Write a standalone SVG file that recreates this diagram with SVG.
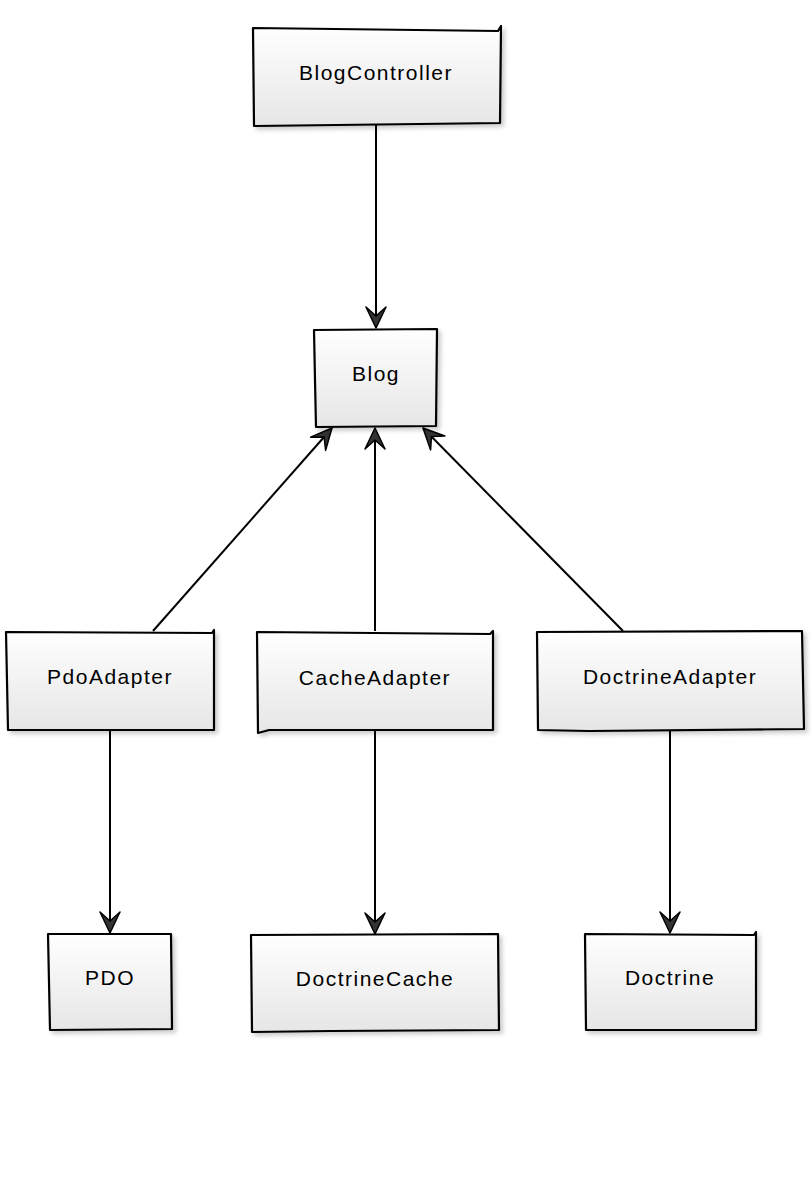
<svg xmlns="http://www.w3.org/2000/svg" width="812" height="1200" viewBox="0 0 812 1200">
<style>
.box{stroke:#000;stroke-width:2.2;fill:url(#g);filter:url(#sh);stroke-linejoin:round}
.lbl{font-family:"Liberation Sans",Arial,sans-serif;font-size:21px;letter-spacing:1.5px;fill:#000;text-anchor:middle;dominant-baseline:central}
.edge{stroke:#000;stroke-width:2;fill:none}
</style>
<defs>
<linearGradient id="g" x1="0" y1="0" x2="0" y2="1">
<stop offset="0" stop-color="#ffffff"/>
<stop offset="1" stop-color="#e6e6e6"/>
</linearGradient>
<filter id="sh" x="-10%" y="-10%" width="130%" height="130%">
<feDropShadow dx="3" dy="3" stdDeviation="2" flood-color="#000" flood-opacity="0.2"/>
</filter>
<marker id="arrb" viewBox="0 0 24 24" refX="22" refY="12" markerWidth="24" markerHeight="24" markerUnits="userSpaceOnUse" orient="auto">
<path d="M1,2 L22,12 L1,22 L10,12 Z" fill="#333" stroke="#000" stroke-width="1.5" stroke-linejoin="round"/>
</marker>
</defs>
<rect width="812" height="1200" fill="#fff"/>
<g id="edges">
<path class="edge" d="M376,125 L376,328" marker-end="url(#arrb)"/>
<path class="edge" d="M153,631 L332,428" marker-end="url(#arrb)"/>
<path class="edge" d="M375,631 L375,428" marker-end="url(#arrb)"/>
<path class="edge" d="M623,631 L423,428" marker-end="url(#arrb)"/>
<path class="edge" d="M110,730 L110,933" marker-end="url(#arrb)"/>
<path class="edge" d="M375,730 L375,934" marker-end="url(#arrb)"/>
<path class="edge" d="M670,730 L670,933" marker-end="url(#arrb)"/>
</g>
<g id="n-blogcontroller">
<path class="box" d="M253,28 L498,31 L501,26 L500,123 L254,126 Z"/>
<text class="lbl" x="376" y="72">BlogController</text>
</g>
<g id="n-blog">
<path class="box" d="M314,330 L437,329 L436,426 L316,427 L315,380 Z"/>
<text class="lbl" x="376" y="373">Blog</text>
</g>
<g id="n-pdoadapter">
<path class="box" d="M6,632 L212,633 L214,630 L214,730 L8,730 Z"/>
<text class="lbl" x="110" y="676">PdoAdapter</text>
</g>
<g id="n-cacheadapter">
<path class="box" d="M257,632 L490,634 L493,631 L493,730 L269,730 L258,733 Z"/>
<text class="lbl" x="375" y="677">CacheAdapter</text>
</g>
<g id="n-doctrineadapter">
<path class="box" d="M537,632 L802,631 L804,729 L589,731 L538,730 Z"/>
<text class="lbl" x="670" y="676">DoctrineAdapter</text>
</g>
<g id="n-pdo">
<path class="box" d="M48,934 L171,934 L172,1029 L50,1030 Z"/>
<text class="lbl" x="110" y="977">PDO</text>
</g>
<g id="n-doctrinecache">
<path class="box" d="M251,935 L498,934 L499,1030 L330,1031 L252,1032 Z"/>
<text class="lbl" x="375" y="978">DoctrineCache</text>
</g>
<g id="n-doctrine">
<path class="box" d="M585,934 L754,935 L756,932 L756,1030 L586,1030 Z"/>
<text class="lbl" x="670" y="977">Doctrine</text>
</g>
</svg>
